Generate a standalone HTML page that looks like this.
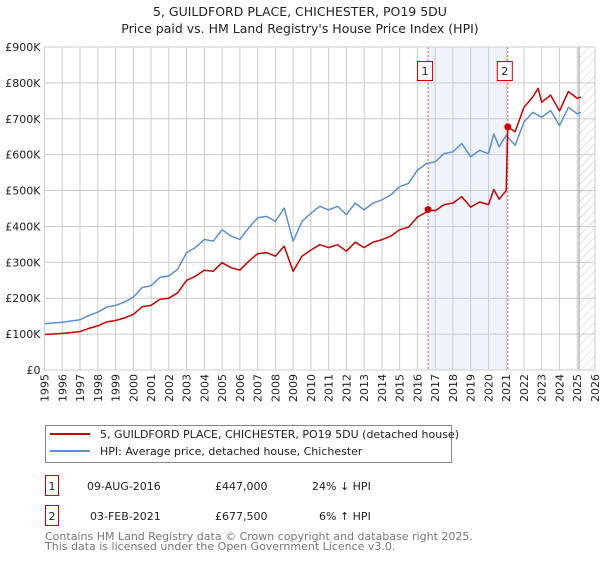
<!DOCTYPE html>
<html><head><meta charset="utf-8"><style>
body{margin:0;background:#fff;font-family:"Liberation Sans","DejaVu Sans",sans-serif;}
svg text{font-family:"DejaVu Sans","Liberation Sans",sans-serif;}
</style></head><body>
<svg id="c" width="600" height="560" xmlns="http://www.w3.org/2000/svg">
<text x="300" y="16" text-anchor="middle" font-size="12.5" fill="#222">5, GUILDFORD PLACE, CHICHESTER, PO19 5DU</text>
<text x="300" y="33" text-anchor="middle" font-size="12.5" fill="#222">Price paid vs. HM Land Registry's House Price Index (HPI)</text>
<g id="grid"></g><g id="marks"></g><g id="axes"></g>
<g>
<rect x="45.5" y="425.5" width="406" height="37" fill="#fff" stroke="#888"/>
<line x1="50" y1="434" x2="90" y2="434" stroke="#cc0000" stroke-width="2"/>
<text x="100" y="438" font-size="11" fill="#222">5, GUILDFORD PLACE, CHICHESTER, PO19 5DU (detached house)</text>
<line x1="50" y1="451" x2="90" y2="451" stroke="#5b8fd4" stroke-width="2"/>
<text x="100" y="455" font-size="11" fill="#222">HPI: Average price, detached house, Chichester</text>
</g>
<g font-size="11" fill="#222">
<rect x="45.5" y="475.5" width="13" height="20" fill="#fff" stroke="#cc0000"/><text x="52" y="490" text-anchor="middle">1</text>
<text x="87" y="490">09-AUG-2016</text><text x="215" y="490">£447,000</text><text x="312" y="490">24% ↓ HPI</text>
<rect x="45.5" y="505.5" width="13" height="20" fill="#fff" stroke="#cc0000"/><text x="52" y="520" text-anchor="middle">2</text>
<text x="90" y="520">03-FEB-2021</text><text x="215" y="520">£677,500</text><text x="319" y="520">6% ↑ HPI</text>
</g>
<text x="45" y="540" font-size="11" fill="#777">Contains HM Land Registry data © Crown copyright and database right 2025.</text>
<text x="45" y="550" font-size="11" fill="#777">This data is licensed under the Open Government Licence v3.0.</text>
</svg>
<script>
const hpiYears=[1995,1996,1997,1997.5,1998,1998.5,1999,1999.5,2000,2000.5,2001,2001.5,2002,2002.5,2003,2003.5,2004,2004.5,2005,2005.5,2006,2006.5,2007,2007.5,2008,2008.5,2009,2009.5,2010,2010.5,2011,2011.5,2012,2012.5,2013,2013.5,2014,2014.5,2015,2015.5,2016,2016.5,2017,2017.5,2018,2018.5,2019,2019.5,2020,2020.3,2020.6,2021,2021.5,2022,2022.5,2023,2023.5,2024,2024.5,2025,2025.2];
const hpiValues=[129,133,140,152,161,175,180,189,203,230,235,258,262,281,327,341,364,359,391,373,364,396,424,428,414,451,359,414,437,456,446,456,433,465,446,465,474,488,511,520,557,575,580,603,608,631,594,612,603,658,622,654,626,691,718,704,723,681,732,714,718];
const propYears=[1995,1996,1997,1997.5,1998,1998.5,1999,1999.5,2000,2000.5,2001,2001.5,2002,2002.5,2003,2003.5,2004,2004.5,2005,2005.5,2006,2006.5,2007,2007.5,2008,2008.5,2009,2009.5,2010,2010.5,2011,2011.5,2012,2012.5,2013,2013.5,2014,2014.5,2015,2015.5,2016,2016.5,2016.6,2017,2017.5,2018,2018.5,2019,2019.5,2020,2020.3,2020.6,2021.0,2021.09,2021.5,2022,2022.5,2022.8,2023,2023.5,2024,2024.5,2025,2025.2];
const propValues=[99,102,107,116,123,134,138,145,155,176,180,197,200,215,250,261,278,275,299,285,278,303,324,327,317,345,275,317,334,349,341,349,331,356,341,356,363,373,391,398,426,440,447,444,461,465,483,454,468,461,503,476,500,677.5,664,732,761,785,746,766,722,776,757,761];
const saleYears=[2016.6,2021.09];
const saleValues=[447,677.5];
const saleLabels=["1","2"];
const yTicks=[0,100,200,300,400,500,600,700,800,900];
const yTickLabels=["£0","£100K","£200K","£300K","£400K","£500K","£600K","£700K","£800K","£900K"];
const xTicks=[1995,1996,1997,1998,1999,2000,2001,2002,2003,2004,2005,2006,2007,2008,2009,2010,2011,2012,2013,2014,2015,2016,2017,2018,2019,2020,2021,2022,2023,2024,2025,2026];
const NS="http://www.w3.org/2000/svg";
const X0=44.5,X1=595,Y0=370,Y1=47;
const xs=y=>X0+(y-1995)/(2026-1995)*(X1-X0);
const ys=v=>Y0-v/900*(Y0-Y1);
function mk(p,t,a){const e=document.createElementNS(NS,t);for(const k in a)e.setAttribute(k,a[k]);p.appendChild(e);return e;}
const grid=document.getElementById('grid'),marks=document.getElementById('marks'),axes=document.getElementById('axes');
const sh=mk(grid,'rect',{x:xs(saleYears[0]),y:Y1,width:xs(saleYears[1])-xs(saleYears[0]),height:Y0-Y1,fill:'#eef3fc'});


const defs=mk(grid,'defs',{});
const pat=mk(defs,'pattern',{id:'h',width:6,height:6,patternUnits:'userSpaceOnUse',patternTransform:'rotate(45)'});
mk(pat,'line',{x1:0,y1:0,x2:0,y2:6,stroke:'#bbb','stroke-width':0.8});
const hr=mk(grid,'rect',{x:xs(2025.1),y:Y1,width:X1-xs(2025.1),height:Y0-Y1,fill:'url(#h)'});


xTicks.forEach(t=>{mk(grid,'line',{x1:xs(t),y1:Y1,x2:xs(t),y2:Y0,stroke:'#ccc','stroke-width':1});
 const tx=mk(axes,'text',{x:0,y:0,transform:`translate(${xs(t)+4},${Y0+4}) rotate(-90)`,'text-anchor':'end','font-size':11,fill:'#222'});
 tx.textContent=t;
 
 });
yTicks.forEach((t,i)=>{mk(grid,'line',{x1:X0,y1:ys(t),x2:X1,y2:ys(t),stroke:'#ccc','stroke-width':1});
 const tx=mk(axes,'text',{x:X0-4,y:ys(t)+4,'text-anchor':'end','font-size':11,fill:'#222'});
 tx.textContent=yTickLabels[i];
 
 });
mk(grid,'line',{x1:xs(2025.1),y1:Y1,x2:xs(2025.1),y2:Y0,stroke:'#999','stroke-width':1});
saleYears.forEach((s,i)=>{mk(grid,'line',{x1:xs(s),y1:Y1,x2:xs(s),y2:Y0,stroke:'#e05555','stroke-width':1,'stroke-dasharray':'2,2'});
 const b=mk(axes,'rect',{x:xs(s)-10.5,y:61.5,width:15,height:19,fill:'#fff',stroke:'#cc0000'});
 
 
 const t=mk(axes,'text',{x:xs(s)-3,y:75,'text-anchor':'middle','font-size':11,fill:'#222'});t.textContent=saleLabels[i];});
function line(yr,vals,col,name){const d=yr.map((y,i)=>(i?'L':'M')+xs(y).toFixed(1)+','+ys(vals[i]).toFixed(1)).join('');
 const p=mk(marks,'path',{d:d,fill:'none',stroke:col,'stroke-width':1.5,'stroke-linejoin':'round'});
 
 }
line(hpiYears,hpiValues,'#5b8fd4','hpi-line');
line(propYears,propValues,'#cc0000','property-price-line');
saleYears.forEach((s,i)=>{const c=mk(marks,'circle',{cx:xs(s),cy:ys(saleValues[i]),r:3.5,fill:'#cc0000'});
 
 });
mk(axes,'rect',{x:X0,y:Y1,width:X1-X0,height:Y0-Y1,fill:'none',stroke:'#ccc'});
</script>
</body></html>
